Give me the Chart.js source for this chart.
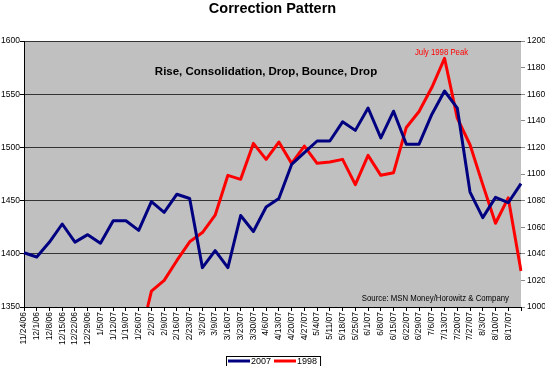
<!DOCTYPE html>
<html>
<head>
<meta charset="utf-8">
<script src="https://cdn.jsdelivr.net/npm/chart.js@4.4.1/dist/chart.umd.min.js"></script>
<style>
  html, body { margin: 0; padding: 0; background: #fff; }
  #wrap { width: 545px; height: 366px; position: relative; }
</style>
</head>
<body>
<div id="wrap"><canvas id="myChart" width="545" height="366"></canvas></div>
<script>
// weekly dates (last week has no label on the original)
const weeks = ['11/24/06', '12/1/06', '12/8/06', '12/15/06', '12/22/06', '12/29/06', '1/5/07', '1/12/07',
    '1/19/07', '1/26/07', '2/2/07', '2/9/07', '2/16/07', '2/23/07', '3/2/07', '3/9/07', '3/16/07', '3/23/07',
    '3/30/07', '4/6/07', '4/13/07', '4/20/07', '4/27/07', '5/4/07', '5/11/07', '5/18/07', '5/25/07', '6/1/07',
    '6/8/07', '6/15/07', '6/22/07', '6/29/07', '7/6/07', '7/13/07', '7/20/07', '7/27/07', '8/3/07', '8/10/07',
    '8/17/07', ''];

// 2007 series (left axis)
const values2007 = [1401, 1397, 1411, 1428, 1411, 1418, 1410, 1431, 1431, 1422,
    1449, 1439, 1456, 1452, 1387, 1403, 1387, 1436, 1421, 1444,
    1452, 1484, 1495, 1506, 1506, 1524, 1516, 1537, 1509, 1534,
    1503, 1503, 1531, 1553, 1537, 1458, 1434, 1453, 1448, 1466];

// 1998 series (right axis), early weeks sit below the axis range
const values1998 = [null, null, null, null, null, null, null, null, null, 972,
    1012, 1020, 1035, 1049, 1056, 1069, 1099, 1096, 1123, 1111,
    1124, 1108, 1121, 1108, 1109, 1111, 1092, 1114, 1099, 1101,
    1135, 1147, 1165, 1187, 1142, 1122, 1092, 1063, 1082, 1027];

const leftTicks = [1350, 1600, 50];
const rightTicks = [1000, 1200, 20];

const sans = '"Liberation Sans", Arial, sans-serif';

// draw text squeezed horizontally, like Arial Narrow
function narrowText(ctx, text, x, y, align, squeeze) {
    ctx.save();
    ctx.translate(x, y);
    ctx.scale(squeeze, 1);
    ctx.textAlign = align;
    ctx.fillText(text, 0, 0);
    ctx.restore();
}

const decorations = {
    id: 'decorations',
    beforeDraw(chart) {
        const a = chart.chartArea;
        const ctx = chart.ctx;
        ctx.save();
        ctx.fillStyle = '#c0c0c0';
        ctx.fillRect(a.left, a.top, a.right - a.left, a.bottom - a.top);
        ctx.restore();
    },
    afterDraw(chart) {
        const ctx = chart.ctx;
        const a = chart.chartArea;
        ctx.save();

        // subtitle inside the plot
        ctx.fillStyle = '#000';
        ctx.font = 'bold 11.5px ' + sans;
        ctx.textAlign = 'center';
        ctx.textBaseline = 'middle';
        ctx.fillText('Rise, Consolidation, Drop, Bounce, Drop', 266, 72);

        // peak note above the 1998 maximum
        const peakIdx = values1998.indexOf(Math.max(...values1998.filter(v => v !== null)));
        const px = chart.scales.x.getPixelForValue(peakIdx);
        const py = chart.scales.y1.getPixelForValue(values1998[peakIdx]);
        ctx.fillStyle = '#ff0000';
        ctx.font = '9.5px ' + sans;
        ctx.textBaseline = 'alphabetic';
        narrowText(ctx, 'July 1998 Peak', px - 3, py - 3.5, 'center', 0.82);

        // source
        ctx.fillStyle = '#000';
        ctx.font = '9.5px ' + sans;
        narrowText(ctx, 'Source: MSN Money/Horowitz & Company', 509, a.bottom - 6, 'right', 0.82);

        // legend
        const items = chart.data.datasets;
        const top = 356, mid = 361;
        ctx.font = '9px ' + sans;
        ctx.textAlign = 'left';
        ctx.textBaseline = 'middle';
        const startX = 226;
        let x = 228;
        items.forEach(ds => {
            ctx.strokeStyle = ds.borderColor;
            ctx.lineWidth = 3;
            ctx.beginPath();
            ctx.moveTo(x, mid);
            ctx.lineTo(x + 22, mid);
            ctx.stroke();
            ctx.fillStyle = '#000';
            ctx.fillText(ds.label, x + 23, mid + 0.5);
            x += 23 + ctx.measureText(ds.label).width + 3;
        });
        ctx.strokeStyle = '#000';
        ctx.lineWidth = 1;
        ctx.strokeRect(startX + 0.5, top + 0.5, x - startX, 14);
        ctx.restore();
    }
};

const tickFont = { family: sans, size: 8.5 };

const ctx = document.getElementById('myChart').getContext('2d');
new Chart(ctx, {
    type: 'line',
    data: {
        labels: weeks,
        datasets: [{
            label: '2007',
            data: values2007,
            borderColor: '#000080',
            backgroundColor: '#000080',
            borderWidth: 3,
            borderJoinStyle: 'round',
            pointRadius: 0,
            tension: 0,
            yAxisID: 'y'
        }, {
            label: '1998',
            data: values1998,
            borderColor: '#ff0000',
            backgroundColor: '#ff0000',
            borderWidth: 3,
            borderJoinStyle: 'round',
            pointRadius: 0,
            tension: 0,
            spanGaps: false,
            yAxisID: 'y1'
        }]
    },
    options: {
        responsive: false,
        animation: false,
        layout: { padding: 0 },
        plugins: {
            legend: { display: false },
            tooltip: { enabled: false },
            title: {
                display: true,
                text: 'Correction Pattern',
                color: '#000',
                font: { family: sans, size: 14.5, weight: 'bold', lineHeight: 1.2 },
                padding: { top: 0, bottom: 23.6 }
            }
        },
        scales: {
            x: {
                offset: false,
                grid: { drawOnChartArea: false, drawTicks: true, tickLength: 4, color: '#000' },
                border: { display: true, color: '#000', width: 1 },
                ticks: {
                    autoSkip: false,
                    maxRotation: 90,
                    minRotation: 90,
                    padding: 1,
                    color: '#000',
                    font: tickFont
                },
                afterFit(scale) { scale.height = 59; }
            },
            y: {
                position: 'left',
                min: leftTicks[0],
                max: leftTicks[1],
                grid: { color: '#333', tickColor: '#000', tickLength: 4, lineWidth: 1 },
                border: { display: true, color: '#000', width: 1 },
                ticks: {
                    stepSize: leftTicks[2],
                    padding: 0,
                    color: '#000',
                    font: tickFont,
                    callback: v => String(v)
                },
                afterFit(scale) { scale.width = 24; }
            },
            y1: {
                position: 'right',
                min: rightTicks[0],
                max: rightTicks[1],
                grid: { drawOnChartArea: false, tickColor: '#888', tickLength: 4 },
                border: { display: false },
                ticks: {
                    stepSize: rightTicks[2],
                    padding: 2,
                    color: '#000',
                    font: tickFont,
                    callback: v => String(v)
                },
                afterFit(scale) { scale.width = 24; }
            }
        }
    },
    plugins: [decorations]
});
</script>
</body>
</html>
